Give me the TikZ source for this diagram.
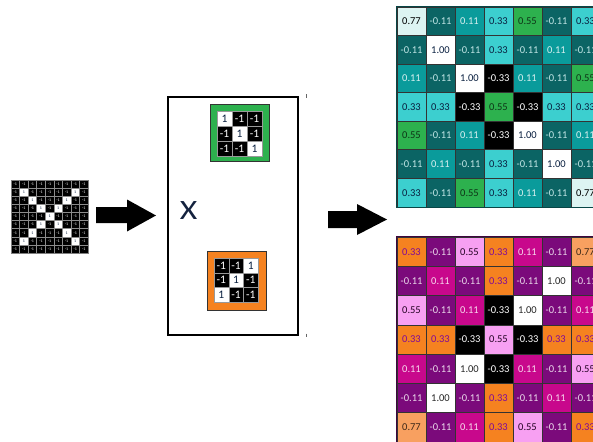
\documentclass[tikz,border=0pt]{standalone}
\usepackage{fontspec}
\setmainfont{Carlito}
\usetikzlibrary{calc}
\definecolor{tA}{HTML}{DDF4F2}
\definecolor{tB}{HTML}{0B6464}
\definecolor{tC}{HTML}{0A9B9B}
\definecolor{tD}{HTML}{3CCFCF}
\definecolor{tE}{HTML}{2DB14E}
\definecolor{bA}{HTML}{F8A060}
\definecolor{bB}{HTML}{7B0A7B}
\definecolor{bC}{HTML}{C8088C}
\definecolor{bD}{HTML}{F58220}
\definecolor{bE}{HTML}{F7A0F2}
\definecolor{bTxt}{HTML}{800A98}
\definecolor{navy}{HTML}{0A2040}
\definecolor{fgreen}{HTML}{2DB14E}
\definecolor{forange}{HTML}{F58220}
\definecolor{xcol}{HTML}{14223E}
\def\valA{0.77}\def\valB{-0.11}\def\valC{0.11}\def\valD{0.33}
\def\valE{0.55}\def\valF{1.00}\def\valG{-0.33}
\tikzset{
  mcell/.style={draw=black!80, line width=0.8pt, inner sep=0pt,
    minimum width=29pt, minimum height=28.6pt,
    font=\fontsize{10.5}{12}\selectfont},
  tcA/.style={fill=tA, text=black},
  tcB/.style={fill=tB, text=white!75!tC},
  tcC/.style={fill=tC, text=white!85!tC},
  tcD/.style={fill=tD, text=navy},
  tcE/.style={fill=tE, text=black!70!tE},
  tcF/.style={fill=white, text=navy},
  tcG/.style={fill=black, text=white},
  bcA/.style={fill=bA, text=black!75!bA},
  bcB/.style={fill=bB, text=white!85!bB},
  bcC/.style={fill=bC, text=white!85!bC},
  bcD/.style={fill=bD, text=bTxt},
  bcE/.style={fill=bE, text=black!70!bB},
  bcF/.style={fill=white, text=black!85},
  bcG/.style={fill=black, text=white},
  incell/.style={draw=black!45, line width=0.4pt, inner sep=0pt,
    minimum width=8.56pt, minimum height=8.11pt,
    font=\fontsize{4}{4}\selectfont},
  fcell/.style={draw=black!40, line width=0.4pt, inner sep=0pt,
    minimum width=15pt, minimum height=15pt,
    font=\fontsize{11.5}{12}\selectfont},
  oncell/.style={fill=white, text=navy},
  offcell/.style={fill=black, text=white},
}
\begin{document}
\begin{tikzpicture}[x=1pt,y=-1pt]
\useasboundingbox (0,0) rectangle (593,441);
\begin{scope}
\clip (0,0) rectangle (593,441);
% input image 9x9
\foreach \r in {1,...,9}{
  \foreach \c in {1,...,9}{
    \pgfmathtruncatemacro\isone{and(and(\r>1,\r<9),or(\r==\c,\r+\c==10))}
    \ifnum\isone=1
      \node[incell, oncell] (in-\r-\c) at ({11+8.56*(\c-0.5)},{180+8.11*(\r-0.5)}) {1};
    \else
      \node[incell, offcell] (in-\r-\c) at ({11+8.56*(\c-0.5)},{180+8.11*(\r-0.5)}) {-1};
    \fi
  }
}
\draw[black!50, line width=0.6pt] (in-1-1.north west) rectangle (in-9-9.south east);

% arrow 1
\coordinate (a1s) at (96,215);
\fill[black] (a1s) ++(0,-8) -- ++(31,0) -- ++(0,-7.5) -- (156,215.5) -- (127,231.5) -- (127,223) -- (96,223) -- cycle;

% middle box
\node[draw=black, line width=2.4pt, minimum width=130pt, minimum height=238pt, inner sep=0pt] (box) at (233,216) {};
\node[text=xcol, font=\fontsize{28}{28}\selectfont, inner sep=0pt, xscale=1.2] (xop) at (188.5,211) {X};
\draw[black!60, line width=0.8pt] (306,94.5) -- (306,98);
\draw[black!60, line width=0.8pt] (306,333.5) -- (306,337);

% green filter
\node[fill=fgreen, draw=black!80, line width=0.6pt, minimum width=59pt, minimum height=57pt, inner sep=0pt] (gf) at (239.5,133) {};
\foreach \row [count=\r] in {{1,0,0},{0,1,0},{0,0,1}}{
  \foreach \k [count=\c] in \row {
    \ifnum\k=1
      \node[fcell, oncell] (g-\r-\c) at ({217+15*(\c-0.5)},{111+15*(\r-0.5)}) {1};
    \else
      \node[fcell, offcell] (g-\r-\c) at ({217+15*(\c-0.5)},{111+15*(\r-0.5)}) {-1};
    \fi
  }
}
% orange filter
\node[fill=forange, draw=black!80, line width=0.6pt, minimum width=59pt, minimum height=59pt, inner sep=0pt] (of) at (236.5,280.5) {};
\foreach \row [count=\r] in {{0,0,1},{0,1,0},{1,0,0}}{
  \foreach \k [count=\c] in \row {
    \ifnum\k=1
      \node[fcell, oncell, minimum width=14.7pt, minimum height=14.7pt] (o-\r-\c) at ({214+14.7*(\c-0.5)},{258+14.7*(\r-0.5)}) {1};
    \else
      \node[fcell, offcell, minimum width=14.7pt, minimum height=14.7pt] (o-\r-\c) at ({214+14.7*(\c-0.5)},{258+14.7*(\r-0.5)}) {-1};
    \fi
  }
}

% arrow 2
\coordinate (a2s) at (328,219.5);
\fill[black] (a2s) ++(0,-8.5) -- ++(29,0) -- ++(0,-7) -- (387,219.5) -- (357,235) -- (357,228) -- (328,228) -- cycle;

% top feature map
\foreach \row [count=\r] in {{A,B,C,D,E,B,D},{B,F,B,D,B,C,B},{C,B,F,G,C,B,E},{D,D,G,E,G,D,D},{E,B,C,G,F,B,C},{B,C,B,D,B,F,B},{D,B,E,D,C,B,A}}{
  \foreach \k [count=\c] in \row {
    \node[mcell, tc\k] (t-\r-\c) at ({397+29*(\c-0.5)},{7+28.57*(\r-0.5)}) {\csname val\k\endcsname};
  }
}
\draw[tB!70!black, line width=1.6pt] (t-1-1.north west) rectangle (t-7-7.south east);

% bottom feature map
\foreach \row [count=\r] in {{D,B,E,D,C,B,A},{B,C,B,D,B,F,B},{E,B,C,G,F,B,C},{D,D,G,E,G,D,D},{C,B,F,G,C,B,E},{B,F,B,D,B,C,B},{A,B,C,D,E,B,D}}{
  \foreach \k [count=\c] in \row {
    \node[mcell, bc\k, minimum height=29.3pt] (b-\r-\c) at ({397+29*(\c-0.5)},{237+29.3*(\r-0.5)}) {\csname val\k\endcsname};
  }
}
\draw[bB!50!black, line width=1.6pt] (b-1-1.north west) rectangle (b-7-7.south east);
\end{scope}
\end{tikzpicture}
\end{document}
